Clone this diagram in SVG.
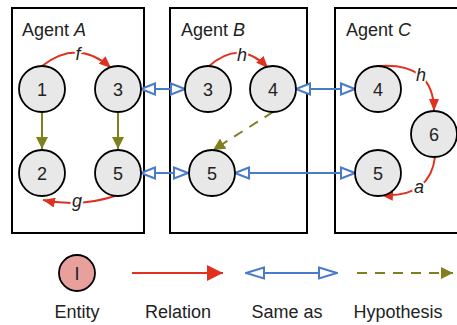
<svg xmlns="http://www.w3.org/2000/svg" width="457" height="325" viewBox="0 0 457 325">
<defs>
<style>
.box{fill:#fff;stroke:#000;stroke-width:2}
.node circle{fill:#e8e8e8;stroke:#000;stroke-width:1.8}
.ent circle{fill:#e8a09c;stroke:#000;stroke-width:1.8}
text{font-family:"Liberation Sans",Arial,sans-serif;fill:#222}
.num{font-size:18px;text-anchor:middle}
.title{font-size:18px}
.lbl{font-size:18px;font-style:italic;text-anchor:middle;stroke:#fff;stroke-width:4;paint-order:stroke;stroke-linejoin:round}
.leg{font-size:18px;text-anchor:middle}
.rel{fill:none;stroke:#e0301e;stroke-width:2;marker-end:url(#mRel)}
.same{fill:none;stroke:#4a7bc8;stroke-width:2;marker-start:url(#mSameS);marker-end:url(#mSameE)}
.hyp{fill:none;stroke:#808020;stroke-width:2;marker-end:url(#mHyp)}
.dash{stroke-dasharray:10 8}
</style>
<marker id="mRel" viewBox="0 0 12 10" refX="12" refY="5" markerWidth="12" markerHeight="10" markerUnits="userSpaceOnUse" orient="auto">
<path d="M0,0 L12,5 L0,10 z" fill="#e0301e"/>
</marker>
<marker id="mRelBig" viewBox="0 0 16 16" refX="16" refY="8" markerWidth="16" markerHeight="16" markerUnits="userSpaceOnUse" orient="auto">
<path d="M0,0 L16,8 L0,16 z" fill="#e0301e"/>
</marker>
<marker id="mHyp" viewBox="0 0 12 12" refX="12" refY="6" markerWidth="12" markerHeight="12" markerUnits="userSpaceOnUse" orient="auto">
<path d="M0,0 L12,6 L0,12 z" fill="#808020"/>
</marker>
<marker id="mSameE" viewBox="0 0 16 14" refX="15" refY="7" markerWidth="16" markerHeight="14" markerUnits="userSpaceOnUse" orient="auto">
<path d="M1,1.5 L15,7 L1,12.5 z" fill="#fff" stroke="#4a7bc8" stroke-width="2"/>
</marker>
<marker id="mSameS" viewBox="0 0 16 14" refX="1" refY="7" markerWidth="16" markerHeight="14" markerUnits="userSpaceOnUse" orient="auto">
<path d="M15,1.5 L1,7 L15,12.5 z" fill="#fff" stroke="#4a7bc8" stroke-width="2"/>
</marker>
<marker id="mSameEBig" viewBox="0 0 20 14" refX="19" refY="7" markerWidth="20" markerHeight="14" markerUnits="userSpaceOnUse" orient="auto">
<path d="M1,1.5 L19,7 L1,12.5 z" fill="#fff" stroke="#4a7bc8" stroke-width="2"/>
</marker>
<marker id="mSameSBig" viewBox="0 0 20 14" refX="1" refY="7" markerWidth="20" markerHeight="14" markerUnits="userSpaceOnUse" orient="auto">
<path d="M19,1.5 L1,7 L19,12.5 z" fill="#fff" stroke="#4a7bc8" stroke-width="2"/>
</marker>
</defs>
<rect width="457" height="325" fill="#fff"/>
<g id="agentA">
<rect class="box" x="12" y="8" width="132" height="225"/>
<text class="title" x="22" y="36">Agent <tspan font-style="italic">A</tspan></text>
</g>
<g id="agentB">
<rect class="box" x="170" y="8" width="137" height="225"/>
<text class="title" x="181" y="36">Agent <tspan font-style="italic">B</tspan></text>
</g>
<g id="agentC">
<rect class="box" x="335" y="8" width="140" height="225"/>
<text class="title" x="346" y="36">Agent <tspan font-style="italic">C</tspan></text>
</g>
<g id="connectors">
<path class="rel" d="M42,66 Q78,38 111,68"/>
<path class="rel" d="M118,195 Q80,208 43,200"/>
<path class="hyp" d="M42,112 L42,149"/>
<path class="hyp" d="M118,112 L118,149"/>
<path class="rel" d="M208,67 Q240,38 268,68"/>
<path class="hyp dash" d="M273,112 L213,150"/>
<path class="rel" d="M378,66 Q434,62 434,111"/>
<path class="rel" d="M435,157 Q430,198 381,195"/>
<path class="same" d="M141,89 L185,89"/>
<path class="same" d="M141,173 L188,173"/>
<path class="same" d="M296,89 L355,89"/>
<path class="same" d="M235,173 L355,173"/>
<text class="lbl" x="78" y="60">f</text>
<text class="lbl" x="77" y="207">g</text>
<text class="lbl" x="242" y="61">h</text>
<text class="lbl" x="421" y="81">h</text>
<text class="lbl" x="419" y="193">a</text>
</g>
<g id="A1" class="node"><circle cx="42" cy="89" r="23"/><text class="num" x="42" y="95.5">1</text></g>
<g id="A3" class="node"><circle cx="118" cy="89" r="23"/><text class="num" x="118" y="95.5">3</text></g>
<g id="A2" class="node"><circle cx="42" cy="173" r="23"/><text class="num" x="42" y="179.5">2</text></g>
<g id="A5" class="node"><circle cx="118" cy="173" r="23"/><text class="num" x="118" y="179.5">5</text></g>
<g id="B3" class="node"><circle cx="208" cy="89" r="23"/><text class="num" x="208" y="95.5">3</text></g>
<g id="B4" class="node"><circle cx="273" cy="89" r="23"/><text class="num" x="273" y="95.5">4</text></g>
<g id="B5" class="node"><circle cx="212" cy="173" r="23"/><text class="num" x="212" y="179.5">5</text></g>
<g id="C4" class="node"><circle cx="378" cy="89" r="23"/><text class="num" x="378" y="95.5">4</text></g>
<g id="C6" class="node"><circle cx="434" cy="134" r="23"/><text class="num" x="434" y="140.5">6</text></g>
<g id="C5" class="node"><circle cx="378" cy="173" r="23"/><text class="num" x="378" y="179.5">5</text></g>
<g id="legend">
<g id="legEntity" class="ent"><circle cx="77" cy="273" r="18"/><text class="num" x="77" y="279.5">I</text></g>
<path d="M132,273 L223,273" fill="none" stroke="#e0301e" stroke-width="2" marker-end="url(#mRelBig)"/>
<path d="M246,273 L337,273" fill="none" stroke="#4a7bc8" stroke-width="2" marker-start="url(#mSameSBig)" marker-end="url(#mSameEBig)"/>
<path class="hyp dash" d="M357,273 L453,273"/>
<text class="leg" x="77" y="318">Entity</text>
<text class="leg" x="178" y="318">Relation</text>
<text class="leg" x="287" y="318">Same as</text>
<text class="leg" x="398" y="318">Hypothesis</text>
</g>
</svg>
